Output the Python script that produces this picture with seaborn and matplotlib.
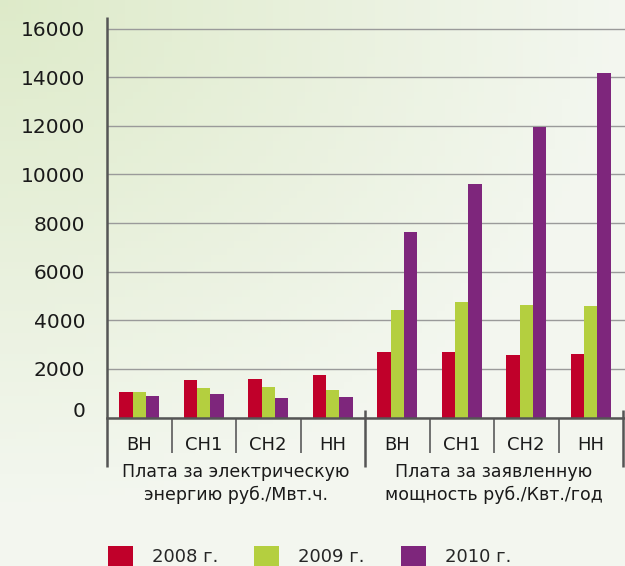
import numpy as np
import pandas as pd
import matplotlib
matplotlib.use("Agg")
import matplotlib.pyplot as plt
import seaborn as sns
from matplotlib.transforms import ScaledTranslation

# data
categories = ['ВН', 'СН1', 'СН2', 'НН']
groups = ['Плата за электрическую\nэнергию руб./Мвт.ч.',
          'Плата за заявленную\nмощность руб./Квт./год']
years = ['2008 г.', '2009 г.', '2010 г.']

energy_2008 = [1030, 1560, 1600, 1730]
energy_2009 = [1030, 1230, 1275, 1150]
energy_2010 = [900, 950, 820, 860]

power_2008 = [2680, 2680, 2590, 2630]
power_2009 = [4440, 4770, 4610, 4570]
power_2010 = [7630, 9610, 11960, 14175]

year_palette = {'2008 г.': '#C0002A', '2009 г.': '#B4CF3F', '2010 г.': '#7E267C'}

# long table: slot 0-3 energy, 4-7 power
rows = []
for series, year in zip([energy_2008, energy_2009, energy_2010], years):
    for i, v in enumerate(series):
        rows.append({'slot': i, 'year': year, 'value': v})
for series, year in zip([power_2008, power_2009, power_2010], years):
    for i, v in enumerate(series):
        rows.append({'slot': i + 4, 'year': year, 'value': v})
df = pd.DataFrame(rows)

sns.set_theme(style='white')
plt.rcParams['font.family'] = ['DejaVu Sans']

fig = plt.figure(figsize=(6.25, 5.66), dpi=100)

# soft green background wash
bg_ax = fig.add_axes([0, 0, 1, 1], zorder=-1)
bg_ax.axis('off')
yy, xx = np.mgrid[0:1:80j, 0:1:80j]
t = np.clip(np.hypot(xx, yy * 1.1) / 1.0, 0, 1)[..., None]
c0 = np.array([0.87, 0.92, 0.79])
c1 = np.array([0.955, 0.968, 0.94])
bg_ax.imshow(c0 * (1 - t) + c1 * t, extent=[0, 1, 0, 1], origin='upper', aspect='auto')

ax = fig.add_axes([107 / 625, 1 - 417.5 / 566, 1 - 107 / 625, (417.5 - 17) / 566])
ax.patch.set_alpha(0)

sns.barplot(data=df, x='slot', y='value', hue='year',
            order=range(8), hue_order=years,
            palette=year_palette, saturation=1,
            width=0.62, linewidth=0, ax=ax)

ax.set_xlim(-0.5, 7.5 + 2 / 64.5)
ax.set_ylim(0, 16480)
ax.set_xlabel('')
ax.set_ylabel('')

ax.set_yticks(range(0, 16001, 2000))
ax.tick_params(axis='y', length=0, pad=15.5, labelsize=14.5, labelcolor='#1a1a1a')
ax.yaxis.grid(True, color='#9a9a9a', linewidth=1.0)
ax.set_axisbelow(True)

ax.set_xticks(range(8))
ax.set_xticklabels(categories * 2)
ax.tick_params(axis='x', length=0, pad=13.5, labelsize=13, labelcolor='#1a1a1a')

for side in ['left', 'top', 'right']:
    ax.spines[side].set_visible(False)
ax.spines['bottom'].set_color('#555555')
ax.spines['bottom'].set_linewidth(1.8)

# separators under the axis
xt = ax.get_xaxis_transform()
ax.vlines([0.5, 1.5, 2.5, 4.5, 5.5, 6.5], -0.0886, 0, transform=xt,
          colors='#666666', linewidth=1.3, clip_on=False)
ax.vlines([3.5, 7.5], -0.1236, 0.0187, transform=xt,
          colors='#555555', linewidth=1.8, clip_on=False)
ax.vlines([-0.5], -0.1236, 1, transform=xt,
          colors='#555555', linewidth=1.8, clip_on=False)

# group captions
ax.text(1.5, -0.113, groups[0], transform=xt, ha='center', va='top',
        fontsize=12.5, linespacing=1.35, color='#1a1a1a')
ax.text(5.5, -0.113, groups[1], transform=xt, ha='center', va='top',
        fontsize=12.5, linespacing=1.35, color='#1a1a1a')

# "0" sits a bit above the baseline in the reference
zero_lbl = ax.get_yticklabels()[0]
zero_lbl.set_transform(zero_lbl.get_transform() + ScaledTranslation(0, 6 / 72, fig.dpi_scale_trans))

sns.move_legend(ax, 'center left', bbox_to_anchor=(108 / 625, 10 / 566),
                bbox_transform=fig.transFigure, ncol=3, title=None, frameon=False,
                fontsize=13, handlelength=1.38, handleheight=1.38,
                handletextpad=1.05, columnspacing=2.0,
                borderpad=0, borderaxespad=0)

fig.savefig('out.png', dpi=100)
